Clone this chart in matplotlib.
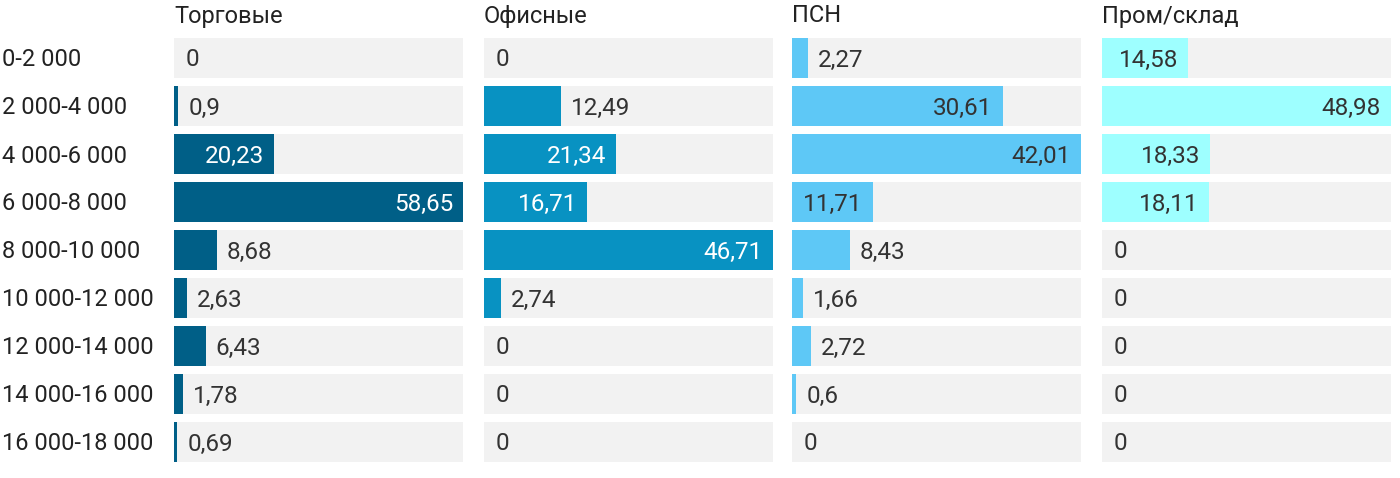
import matplotlib.pyplot as plt

plt.rcParams['font.family'] = ['Roboto', 'DejaVu Sans']

categories = ["0-2 000", "2 000-4 000", "4 000-6 000", "6 000-8 000", "8 000-10 000",
              "10 000-12 000", "12 000-14 000", "14 000-16 000", "16 000-18 000"]
titles = ["Торговые", "Офисные", "ПСН", "Пром/склад"]
trade = [0, 0.9, 20.23, 58.65, 8.68, 2.63, 6.43, 1.78, 0.69]
office = [0, 12.49, 21.34, 16.71, 46.71, 2.74, 0, 0, 0]
psn = [2.27, 30.61, 42.01, 11.71, 8.43, 1.66, 2.72, 0.6, 0]
prom = [14.58, 48.98, 18.33, 18.11, 0, 0, 0, 0, 0]
series = [trade, office, psn, prom]

colors = ["#005f87", "#0892c2", "#5ec8f6", "#9effff"]
inner_text = ["white", "white", "#333333", "#333333"]
panel_left = [174, 484, 792, 1102]
panel_w = 289

W, H = 1400, 478
fig = plt.figure(figsize=(W / 100, H / 100), dpi=100)

top_px, bot_px = 34, 466
dy = 2 / 48  # nudge text down a little
for i, vals in enumerate(series):
    ax = fig.add_axes([panel_left[i] / W, 1 - bot_px / H, panel_w / W, (bot_px - top_px) / H])
    vmax = max(vals)
    y = range(len(categories))
    ax.barh(y, [vmax] * len(vals), height=40 / 48, color="#f2f2f2")
    ax.barh(y, vals, height=40 / 48, color=colors[i])
    ax.set_xlim(0, vmax)
    ax.set_ylim(len(categories) - 0.5, -0.5)
    ax.axis("off")
    px_per = panel_w / vmax
    for j, v in enumerate(vals):
        lab = f"{v:g}".replace(".", ",")
        bw = v * px_per
        if v == 0:
            ax.text(12 / px_per, j + dy, lab, va="center", ha="left", fontsize=17.5, color="#333333")
        elif bw > 78:
            ax.text(v - 10 / px_per, j + dy, lab, va="center", ha="right", fontsize=17.5, color=inner_text[i])
        else:
            ax.text(v + 10 / px_per, j + dy, lab, va="center", ha="left", fontsize=17.5, color="#333333")
    fig.text(panel_left[i] / W, 1 - 16 / H, titles[i], va="center", ha="left", fontsize=17, color="#222222")

for j, c in enumerate(categories):
    fig.text(2 / W, 1 - (60 + 48 * j) / H, c, va="center", ha="left", fontsize=17, color="#222222")

fig.savefig("out.png", dpi=100, facecolor="white")
